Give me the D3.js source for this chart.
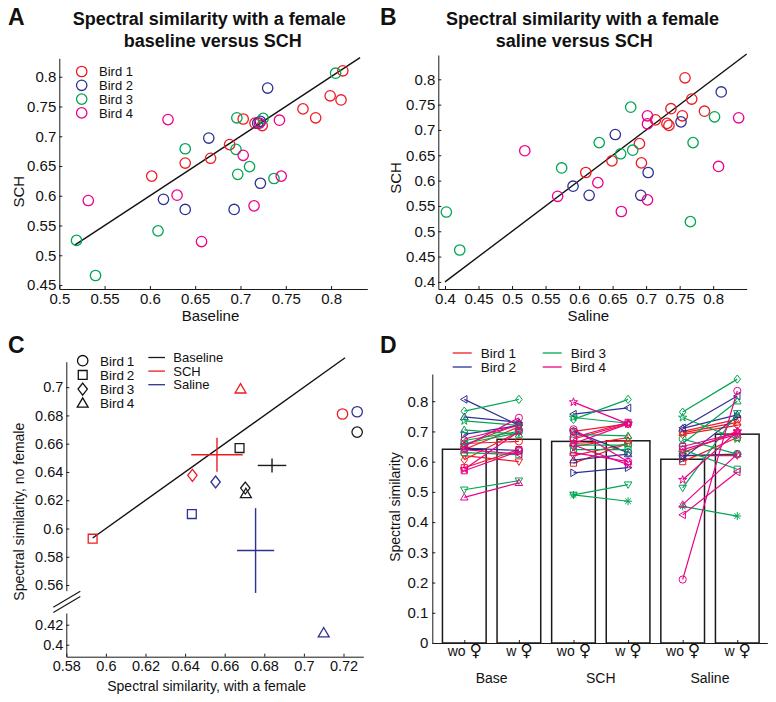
<!DOCTYPE html>
<html><head><meta charset="utf-8">
<script src="https://cdn.jsdelivr.net/npm/d3@7"></script>
<style>
body{margin:0;background:#fff;}
svg{font-family:"Liberation Sans",Arial,Helvetica,sans-serif;}
</style></head><body>
<svg id="c" width="776" height="702"></svg>
<script>
// ---------------- DATA ----------------
const birds = ["Bird 1","Bird 2","Bird 3","Bird 4"];
const birdColors = ["#ED1C24","#2E3192","#00A651","#EC008C"];

// Panel A: [baseline, SCH]
const aBird1 = [[0.813,0.810],[0.811,0.761],[0.799,0.768],[0.769,0.746],[0.783,0.731],[0.703,0.729],[0.716,0.722],[0.724,0.718],[0.688,0.686],[0.667,0.663],[0.639,0.655],[0.602,0.633]];
const aBird2 = [[0.730,0.781],[0.665,0.697],[0.719,0.722],[0.722,0.725],[0.722,0.621],[0.615,0.594],[0.639,0.577],[0.693,0.577]];
const aBird3 = [[0.805,0.806],[0.696,0.731],[0.725,0.730],[0.639,0.679],[0.695,0.678],[0.697,0.636],[0.710,0.649],[0.737,0.629],[0.609,0.541],[0.519,0.525],[0.540,0.466]];
const aBird4 = [[0.620,0.728],[0.743,0.727],[0.703,0.668],[0.745,0.633],[0.630,0.601],[0.715,0.583],[0.532,0.592],[0.657,0.523],[0.721,0.722]];
const aDiag = [0.517, 0.832];
const aTicksX = [0.5,0.55,0.6,0.65,0.7,0.75,0.8];
const aTicksY = [0.45,0.5,0.55,0.6,0.65,0.7,0.75,0.8];

// Panel B: [saline, SCH]
const bBird1 = [[0.758,0.803],[0.768,0.761],[0.737,0.742],[0.787,0.737],[0.754,0.728],[0.714,0.720],[0.731,0.713],[0.734,0.709],[0.690,0.673],[0.693,0.635],[0.649,0.639],[0.610,0.616]];
const bBird2 = [[0.812,0.775],[0.752,0.716],[0.654,0.691],[0.703,0.616],[0.591,0.589],[0.615,0.571],[0.692,0.571]];
const bBird3 = [[0.677,0.745],[0.802,0.726],[0.630,0.675],[0.770,0.675],[0.680,0.660],[0.662,0.653],[0.574,0.625],[0.766,0.519],[0.402,0.538],[0.422,0.463]];
const bBird4 = [[0.838,0.724],[0.702,0.728],[0.702,0.712],[0.519,0.659],[0.628,0.596],[0.808,0.628],[0.568,0.569],[0.702,0.562],[0.663,0.539]];
const bDiag = [0.40, 0.85];
const bTicksX = [0.4,0.45,0.5,0.55,0.6,0.65,0.7,0.75,0.8];
const bTicksY = [0.4,0.45,0.5,0.55,0.6,0.65,0.7,0.75,0.8];

// Panel C: per bird [with female, no female] for Baseline, SCH, Saline
const conditions = ["Baseline","SCH","Saline"];
const condColors = ["#1a1a1a","#ED1C24","#2E3192"];
const cMarkers = ["o","s","d","^"];
const cBaseline = [[0.7269,0.6682],[0.6675,0.6569],[0.6704,0.6286],[0.6707,0.6246]];
const cSCH      = [[0.7195,0.6810],[0.5933,0.5928],[0.6437,0.6376],[0.6680,0.6986]];
const cSaline   = [[0.7269,0.6826],[0.6434,0.6102],[0.6554,0.6329],[0.7100,0.4117]];
const cMeans = [[0.6839,0.6446],[0.6561,0.6522],[0.6756,0.5844]];
const cSemX = [0.0072,0.013,0.0094];
const cSemY = [0.005,0.012,0.030];
const cDiag = [0.5933, 0.7208];
const cTicksX = [0.58,0.6,0.62,0.64,0.66,0.68,0.7,0.72];
const cTicksYUpper = [0.56,0.58,0.6,0.62,0.64,0.66,0.68,0.7];
const cTicksYLower = [0.4,0.42];

// Panel D
const dCategories = ["wo ♀","w ♀","wo ♀","w ♀","wo ♀","w ♀"];
const dGroups = ["Base","SCH","Saline"];
const dBarMeans = [0.641,0.674,0.667,0.669,0.608,0.691];
const dBird   = [0,0,0,0,0,0,1,1,1,1,2,2,2,2,2,2,2,3,3,3,3,3,3];
const dMarker = ["o","s","d","^","v","p","<","^",">","o","d","p","^","v","o","s","*","o","s","^","p","d","<"];
const dBaseWo = [0.660,0.580,0.606,0.640,0.620,0.655,0.806,0.748,0.690,0.645,0.767,0.735,0.705,0.507,0.670,0.630,0.660,0.650,0.570,0.482,0.575,0.675,0.640];
const dBaseW  = [0.667,0.640,0.700,0.715,0.600,0.725,0.720,0.730,0.720,0.637,0.806,0.720,0.690,0.537,0.700,0.623,0.695,0.745,0.635,0.530,0.700,0.720,0.625];
const dSchWo  = [0.675,0.595,0.650,0.660,0.620,0.700,0.757,0.605,0.563,0.700,0.740,0.746,0.690,0.490,0.655,0.640,0.490,0.707,0.680,0.630,0.797,0.660,0.655];
const dSchW   = [0.725,0.660,0.680,0.670,0.660,0.725,0.778,0.625,0.580,0.630,0.806,0.727,0.685,0.524,0.655,0.640,0.469,0.600,0.730,0.600,0.725,0.725,0.590];
const dSalWo  = [0.700,0.600,0.690,0.695,0.620,0.630,0.712,0.710,0.610,0.620,0.764,0.746,0.660,0.513,0.675,0.640,0.452,0.210,0.650,0.458,0.540,0.640,0.424];
const dSalW   = [0.740,0.680,0.720,0.730,0.620,0.700,0.817,0.755,0.750,0.625,0.873,0.675,0.800,0.760,0.625,0.575,0.420,0.834,0.695,0.625,0.700,0.690,0.566];
const dTicksY = [0,0.1,0.2,0.3,0.4,0.5,0.6,0.7,0.8];

// ---------------- HELPERS ----------------
const svg = d3.select("#c");
const FONT = '"Liberation Sans", Arial, Helvetica, sans-serif';
const AX = "#1a1a1a";
const fmt = v => String(+v.toFixed(2));

function styleAxis(g, fs){
  g.attr("font-size", fs).attr("font-family", FONT);
  g.select(".domain").attr("stroke", AX).attr("stroke-width", 1);
  g.selectAll(".tick line").attr("stroke", AX);
  g.selectAll(".tick text").attr("fill", "#111");
}

function markerPath(t, s){
  const p = d3.path();
  const tri = (ang) => {
    const pts = [[0,-s*1.05],[s*1.05,s*0.75],[-s*1.05,s*0.75]];
    const a = ang*Math.PI/180, c = Math.cos(a), sn = Math.sin(a);
    pts.forEach((q,i)=>{ const x=q[0]*c-q[1]*sn, y=q[0]*sn+q[1]*c; if(i) p.lineTo(x,y); else p.moveTo(x,y); });
    p.closePath();
  };
  switch(t){
    case "o": p.moveTo(s,0); p.arc(0,0,s,0,2*Math.PI); break;
    case "s": p.rect(-s*0.85,-s*0.85,s*1.7,s*1.7); break;
    case "d": p.moveTo(0,-s*1.15); p.lineTo(s*0.9,0); p.lineTo(0,s*1.15); p.lineTo(-s*0.9,0); p.closePath(); break;
    case "^": tri(0); break;
    case "v": tri(180); break;
    case ">": tri(90); break;
    case "<": tri(-90); break;
    case "p": for(let i=0;i<10;i++){ const a=-Math.PI/2+i*Math.PI/5, r=i%2? s*0.45: s*1.2; const x=r*Math.cos(a), y=r*Math.sin(a); if(i) p.lineTo(x,y); else p.moveTo(x,y);} p.closePath(); break;
    case "*": { const r=s*1.1, q=r*0.707; p.moveTo(-r,0); p.lineTo(r,0); p.moveTo(0,-r); p.lineTo(0,r); p.moveTo(-q,-q); p.lineTo(q,q); p.moveTo(-q,q); p.lineTo(q,-q); } break;
  }
  return p.toString();
}

function letter(txt, x, y){
  svg.append("text").attr("x",x).attr("y",y).attr("font-size",23).attr("font-weight","bold").attr("fill","#111").text(txt);
}
function title(lines){
  lines.forEach(l => svg.append("text").attr("x",l[1]).attr("y",l[2]).attr("text-anchor","middle")
    .attr("font-size",18).attr("font-weight","bold").attr("fill","#111").text(l[0]));
}

// ---------------- PANEL A ----------------
(function(){
  const x = d3.scaleLinear().domain([0.5,0.84]).range([59.3,367.3]);
  const y = d3.scaleLinear().domain([0.4433,0.831]).range([289,58.3]);
  const g = svg.append("g");
  g.append("g").attr("transform",`translate(0,${y.range()[0]})`)
    .call(d3.axisBottom(x).tickValues(aTicksX).tickFormat(fmt).tickSizeInner(-3).tickSizeOuter(0).tickPadding(4)).call(styleAxis,15);
  g.append("g").attr("transform",`translate(${x.range()[0]},0)`)
    .call(d3.axisLeft(y).tickValues(aTicksY).tickFormat(fmt).tickSizeInner(-3).tickSizeOuter(0).tickPadding(3)).call(styleAxis,15);
  g.append("path").datum(aDiag).attr("fill","none").attr("stroke","#111").attr("stroke-width",1.4)
    .attr("d", d3.line().x(d=>x(d)).y(d=>y(d)));
  [aBird1,aBird2,aBird3,aBird4].forEach((arr,bi)=>{
    g.selectAll(null).data(arr).join("circle").attr("cx",d=>x(d[0])).attr("cy",d=>y(d[1])).attr("r",5.2)
      .attr("fill","none").attr("stroke",birdColors[bi]).attr("stroke-width",1.3);
  });
  birds.forEach((b,i)=>{
    const yy = 71.5 + i*13.8;
    g.append("circle").attr("cx",81.7).attr("cy",yy).attr("r",5.2).attr("fill","none").attr("stroke",birdColors[i]).attr("stroke-width",1.3);
    g.append("text").attr("x",99).attr("y",yy+4.6).attr("font-size",13).attr("fill","#111").text(b);
  });
  g.append("text").attr("x",210.5).attr("y",321).attr("text-anchor","middle").attr("font-size",15).attr("fill","#111").text("Baseline");
  g.append("text").attr("transform","translate(24,191.7) rotate(-90)").attr("text-anchor","middle").attr("font-size",15).attr("fill","#111").text("SCH");
  title([["Spectral similarity with a female",209.2,25],["baseline versus SCH",212.8,46.7]]);
  letter("A",8,25);
})();

// ---------------- PANEL B ----------------
(function(){
  const x = d3.scaleLinear().domain([0.39,0.85]).range([438.3,746.7]);
  const y = d3.scaleLinear().domain([0.386,0.848]).range([289,55]);
  const g = svg.append("g");
  g.append("g").attr("transform",`translate(0,${y.range()[0]})`)
    .call(d3.axisBottom(x).tickValues(bTicksX).tickFormat(fmt).tickSizeInner(-3).tickSizeOuter(0).tickPadding(4)).call(styleAxis,15);
  g.append("g").attr("transform",`translate(${x.range()[0]},0)`)
    .call(d3.axisLeft(y).tickValues(bTicksY).tickFormat(fmt).tickSizeInner(-3).tickSizeOuter(0).tickPadding(3)).call(styleAxis,15);
  g.append("path").datum(bDiag).attr("fill","none").attr("stroke","#111").attr("stroke-width",1.4)
    .attr("d", d3.line().x(d=>x(d)).y(d=>y(d)));
  [bBird1,bBird2,bBird3,bBird4].forEach((arr,bi)=>{
    g.selectAll(null).data(arr).join("circle").attr("cx",d=>x(d[0])).attr("cy",d=>y(d[1])).attr("r",5.2)
      .attr("fill","none").attr("stroke",birdColors[bi]).attr("stroke-width",1.3);
  });
  g.append("text").attr("x",588.3).attr("y",321).attr("text-anchor","middle").attr("font-size",15).attr("fill","#111").text("Saline");
  g.append("text").attr("transform","translate(401,178) rotate(-90)").attr("text-anchor","middle").attr("font-size",15).attr("fill","#111").text("SCH");
  title([["Spectral similarity with a female",582.5,25],["saline versus SCH",574.3,46.7]]);
  letter("B",380,25);
})();

// ---------------- PANEL C ----------------
(function(){
  const x = d3.scaleLinear().domain([0.58,0.73]).range([66.3,363.3]);
  const yU = d3.scaleLinear().domain([0.556,0.718]).range([590.7,361.7]);
  const yL = d3.scaleLinear().domain([0.388,0.4317]).range([656.7,613]);
  const y = v => v < 0.5 ? yL(v) : yU(v);
  const g = svg.append("g");
  g.append("g").attr("transform",`translate(0,${yL.range()[0]})`)
    .call(d3.axisBottom(x).tickValues(cTicksX).tickFormat(fmt).tickSizeInner(-3).tickSizeOuter(0).tickPadding(4)).call(styleAxis,14.5);
  g.append("g").attr("transform",`translate(${x.range()[0]},0)`)
    .call(d3.axisLeft(yU).tickValues(cTicksYUpper).tickFormat(fmt).tickSizeInner(-3).tickSizeOuter(0).tickPadding(3)).call(styleAxis,14.5);
  g.append("g").attr("transform",`translate(${x.range()[0]},0)`)
    .call(d3.axisLeft(yL).tickValues(cTicksYLower).tickFormat(fmt).tickSizeInner(-3).tickSizeOuter(0).tickPadding(3)).call(styleAxis,14.5);
  // axis break marks
  const bx = x.range()[0], by = (yU.range()[0] + yL.range()[1]) / 2;
  [-2.6, 2.6].forEach(o => g.append("line").attr("x1",bx-13).attr("y1",by+8+o).attr("x2",bx+14).attr("y2",by-8+o)
      .attr("stroke",AX).attr("stroke-width",1.2));
  // diagonal
  g.append("path").datum(cDiag).attr("fill","none").attr("stroke","#111").attr("stroke-width",1.4)
    .attr("d", d3.line().x(d=>x(d)).y(d=>yU(d)));
  // crosses (mean ± SEM)
  cMeans.forEach((m,i)=>{
    g.append("line").attr("x1",x(m[0]-cSemX[i])).attr("x2",x(m[0]+cSemX[i])).attr("y1",y(m[1])).attr("y2",y(m[1]))
      .attr("stroke",condColors[i]).attr("stroke-width",1.4);
    g.append("line").attr("x1",x(m[0])).attr("x2",x(m[0])).attr("y1",y(m[1]-cSemY[i])).attr("y2",y(m[1]+cSemY[i]))
      .attr("stroke",condColors[i]).attr("stroke-width",1.4);
  });
  // points
  [cBaseline,cSCH,cSaline].forEach((arr,ci)=>{
    arr.forEach((d,bi)=>{
      g.append("path").attr("transform",`translate(${x(d[0])},${y(d[1])})`).attr("d",markerPath(cMarkers[bi],5.2))
        .attr("fill","none").attr("stroke",condColors[ci]).attr("stroke-width",1.3);
    });
  });
  // legend
  birds.forEach((b,i)=>{
    const yy = 360.7 + i*14.2;
    g.append("path").attr("transform",`translate(82.7,${yy})`).attr("d",markerPath(cMarkers[i],5.2))
      .attr("fill","none").attr("stroke","#111").attr("stroke-width",1.3);
    g.append("text").attr("x",100).attr("y",yy+4.8).attr("font-size",13.5).attr("fill","#111").text(b.replace(" ", "\u2009"));
  });
  conditions.forEach((c,i)=>{
    const yy = 357.5 + i*13.6;
    g.append("line").attr("x1",148.3).attr("x2",165).attr("y1",yy).attr("y2",yy).attr("stroke",condColors[i]).attr("stroke-width",1.3);
    g.append("text").attr("x",173.3).attr("y",yy+4.6).attr("font-size",13).attr("fill","#111").text(c);
  });
  g.append("text").attr("x",206.7).attr("y",690.5).attr("text-anchor","middle").attr("font-size",14).attr("fill","#111").text("Spectral similarity, with a female");
  g.append("text").attr("transform","translate(24,511.7) rotate(-90)").attr("text-anchor","middle").attr("font-size",14).attr("fill","#111").text("Spectral similarity, no female");
  letter("C",8,353);
})();

// ---------------- PANEL D ----------------
(function(){
  const x = d3.scaleLinear().domain([0.414,6.55]).range([432.3,767.3]);
  const y = d3.scaleLinear().domain([0,0.89]).range([643,374]);
  const g = svg.append("g");
  const pos = dCategories.map((c,i)=>i+1);
  // bars
  g.selectAll(null).data(dBarMeans).join("rect")
    .attr("x",(d,i)=>x(pos[i]-0.4)).attr("width",x(1.4)-x(0.6))
    .attr("y",d=>y(d)).attr("height",d=>y(0)-y(d))
    .attr("fill","#fff").attr("stroke","#1a1a1a").attr("stroke-width",1.5);
  // axes
  const xa = g.append("g").attr("transform",`translate(0,${y.range()[0]})`)
    .call(d3.axisBottom(x).tickValues(pos).tickFormat((d,i)=>dCategories[i]).tickSizeInner(-3).tickSizeOuter(0).tickPadding(3)).call(styleAxis,14);
  xa.selectAll(".tick text").each(function(){
    const t = d3.select(this); const s = t.text(); const parts = s.split(" ");
    t.text(null);
    t.append("tspan").text(parts[0] + " ");
    t.append("tspan").attr("font-size",17).attr("font-family","DejaVu Sans").text(parts[1]);
  });
  g.append("g").attr("transform",`translate(${x.range()[0]},0)`)
    .call(d3.axisLeft(y).tickValues(dTicksY).tickFormat(fmt).tickSizeInner(-3).tickSizeOuter(0).tickPadding(4)).call(styleAxis,15);
  dGroups.forEach((gname,i)=>{
    g.append("text").attr("x",x(2*i+1.5)).attr("y",682.5).attr("text-anchor","middle").attr("font-size",14).attr("fill","#111").text(gname);
  });
  // paired lines
  const groups = [[dBaseWo,dBaseW],[dSchWo,dSchW],[dSalWo,dSalW]];
  groups.forEach((pair,gi)=>{
    const xl = x(2*gi+1), xr = x(2*gi+2);
    pair[0].forEach((v,k)=>{
      const col = birdColors[dBird[k]];
      g.append("line").attr("x1",xl).attr("y1",y(v)).attr("x2",xr).attr("y2",y(pair[1][k]))
        .attr("stroke",col).attr("stroke-width",1.2);
      [[xl,v],[xr,pair[1][k]]].forEach(pt=>{
        g.append("path").attr("transform",`translate(${pt[0]},${y(pt[1])})`).attr("d",markerPath(dMarker[k],3.6))
          .attr("fill","none").attr("stroke",col).attr("stroke-width",1);
      });
    });
  });
  // legend
  birds.forEach((b,i)=>{
    const col = Math.floor(i/2), row = i%2;
    const lx = col ? 542.7 : 452.7, tx = col ? 570.7 : 480.7, yy = 353 + row*14;
    g.append("line").attr("x1",lx).attr("x2",lx+19).attr("y1",yy).attr("y2",yy).attr("stroke",birdColors[i]).attr("stroke-width",1.3);
    g.append("text").attr("x",tx).attr("y",yy+4.8).attr("font-size",13.5).attr("fill","#111").text(b);
  });
  g.append("text").attr("transform","translate(400,507) rotate(-90)").attr("text-anchor","middle").attr("font-size",14).attr("fill","#111").text("Spectral similarity");
  letter("D",380,353);
})();
</script>
</body></html>
